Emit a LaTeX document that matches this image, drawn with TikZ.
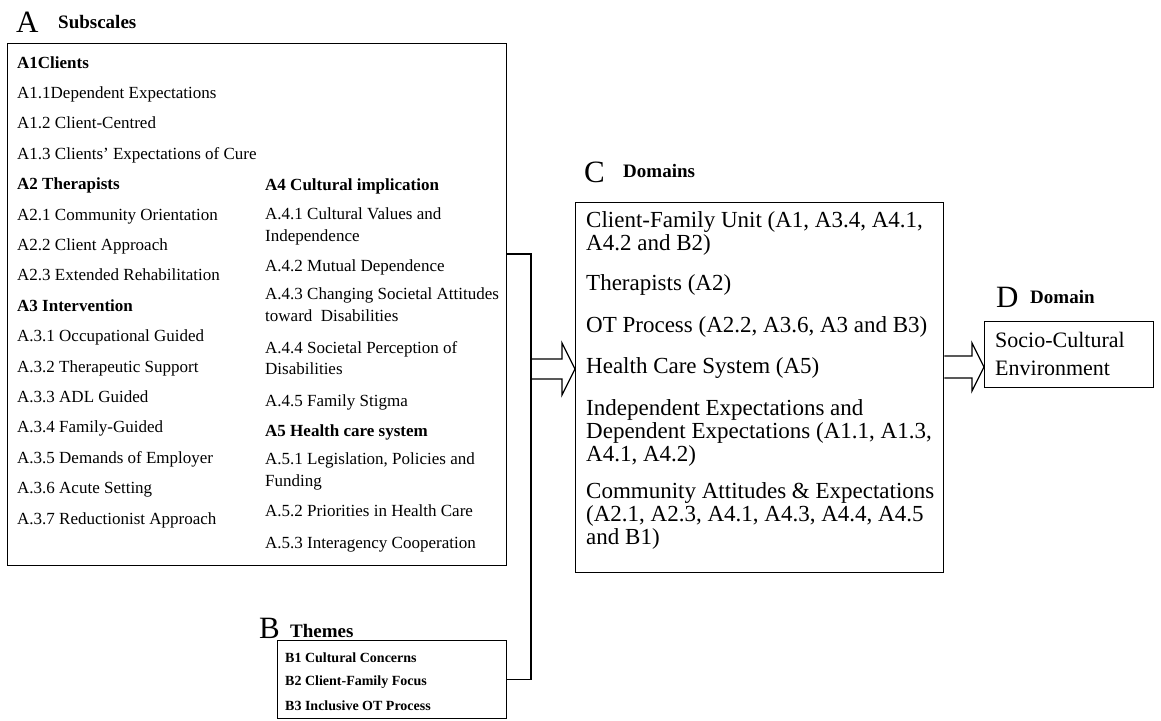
\documentclass[tikz,border=0pt]{standalone}
\usepackage{fontspec}
\setmainfont{Liberation Serif}
\usetikzlibrary{calc}
\newcommand\fsz[2]{\fontsize{#1}{#2}\selectfont}
% block arrow: #1 start point, #2 tip point, #3 shaft half height, #4 head half height, #5 head length
\newcommand\blockarrowpath[5]{%
  \draw[blockarrow] let \p1=(#1), \p2=(#2) in
    (\x1,\y1+#3) -- (\x2-#5,\y1+#3) -- (\x2-#5,\y1+#4) -- (\x2,\y1)
    -- (\x2-#5,\y1-#4) -- (\x2-#5,\y1-#3) -- (\x1,\y1-#3);}

\begin{document}
\begin{tikzpicture}[x=1pt,y=-1pt,
  frame/.style={draw, line width=1.4pt, inner sep=0pt, anchor=north west},
  atext/.style={anchor=base west, inner sep=0pt, font=\fsz{17}{20}},
  ahead/.style={anchor=base west, inner sep=0pt, font=\fsz{17}{20}\bfseries},
  btext/.style={anchor=base west, inner sep=0pt, font=\fsz{14}{16}\bfseries},
  ctext/.style={anchor=base west, inner sep=0pt, font=\fsz{23}{26}},
  dtext/.style={anchor=base west, inner sep=0pt, font=\fsz{22}{25}},
  letter/.style={anchor=base west, inner sep=0pt, font=\fsz{31}{34}},
  caption/.style={anchor=base west, inner sep=0pt, font=\fsz{19}{22}\bfseries},
  link/.style={line width=1.4pt},
  blockarrow/.style={draw, line width=1.2pt, line join=miter}
]
\fill[white] (0,0) rectangle (1161,720);
\useasboundingbox (0,0) rectangle (1161,720);

% frames
\node[frame, minimum width=499pt, minimum height=522pt] (A) at (7,43) {};
\node[frame, minimum width=229pt, minimum height=78pt] (B) at (277,640) {};
\node[frame, minimum width=368pt, minimum height=370pt] (C) at (575,202) {};
\node[frame, minimum width=169pt, minimum height=66pt] (D) at (984,321) {};

% section captions
\node[letter] (Aletter) at (16,32) {A};
\node[caption] (Acap) at (58,28) {Subscales};
\node[letter] (Bletter) at (259,638) {B};
\node[caption] (Bcap) at (290,637) {Themes};
\node[letter] (Cletter) at (584,182) {C};
\node[caption] (Ccap) at (623,177) {Domains};
\node[letter] (Dletter) at (996,307) {D};
\node[caption] (Dcap) at (1030,303) {Domain};

% subscales, left column
\node[ahead] (a1)  at (17,68.0)  {A1Clients};
\node[atext] (a11) at (17,98.4)  {A1.1Dependent Expectations};
\node[atext] (a12) at (17,128.8) {A1.2 Client-Centred};
\node[atext] (a13) at (17,159.2) {A1.3 Clients’ Expectations of Cure};
\node[ahead] (a2)  at (17,189.6) {A2 Therapists};
\node[atext] (a21) at (17,220.0) {A2.1 Community Orientation};
\node[atext] (a22) at (17,250.4) {A2.2 Client Approach};
\node[atext] (a23) at (17,280.8) {A2.3 Extended Rehabilitation};
\node[ahead] (a3)  at (17,311.2) {A3 Intervention};
\node[atext] (a31) at (17,341.6) {A.3.1 Occupational Guided};
\node[atext] (a32) at (17,372.0) {A.3.2 Therapeutic Support};
\node[atext] (a33) at (17,402.4) {A.3.3 ADL Guided};
\node[atext] (a34) at (17,432.8) {A.3.4 Family-Guided};
\node[atext] (a35) at (17,463.2) {A.3.5 Demands of Employer};
\node[atext] (a36) at (17,493.6) {A.3.6 Acute Setting};
\node[atext] (a37) at (17,524.0) {A.3.7 Reductionist Approach};

% subscales, right column
\node[ahead] (a4)   at (265,190) {A4 Cultural implication};
\node[atext] (a41)  at (265,219) {A.4.1 Cultural Values and};
\node[atext] (a41b) at (265,241) {Independence};
\node[atext] (a42)  at (265,271) {A.4.2 Mutual Dependence};
\node[atext] (a43)  at (265,299) {A.4.3 Changing Societal Attitudes};
\node[atext] (a43b) at (265,321) {toward\ \ Disabilities};
\node[atext] (a44)  at (265,353) {A.4.4 Societal Perception of};
\node[atext] (a44b) at (265,374) {Disabilities};
\node[atext] (a45)  at (265,406) {A.4.5 Family Stigma};
\node[ahead] (a5)   at (265,436) {A5 Health care system};
\node[atext] (a51)  at (265,464) {A.5.1 Legislation, Policies and};
\node[atext] (a51b) at (265,486) {Funding};
\node[atext] (a52)  at (265,516) {A.5.2 Priorities in Health Care};
\node[atext] (a53)  at (265,548) {A.5.3 Interagency Cooperation};

% themes
\node[btext] (b1) at (285,662) {B1 Cultural Concerns};
\node[btext] (b2) at (285,685) {B2 Client-Family Focus};
\node[btext] (b3) at (285,710) {B3 Inclusive OT Process};

% domains
\node[ctext] (c1)  at (586,227) {Client-Family Unit (A1, A3.4, A4.1,};
\node[ctext] (c1b) at (586,250) {A4.2 and B2)};
\node[ctext] (c2)  at (586,290) {Therapists (A2)};
\node[ctext] (c3)  at (586,332) {OT Process (A2.2, A3.6, A3 and B3)};
\node[ctext] (c4)  at (586,373) {Health Care System (A5)};
\node[ctext] (c5)  at (586,415) {Independent Expectations and};
\node[ctext] (c5b) at (586,438) {Dependent Expectations (A1.1, A1.3,};
\node[ctext] (c5c) at (586,461) {A4.1, A4.2)};
\node[ctext] (c6)  at (586,498) {Community Attitudes \& Expectations};
\node[ctext] (c6b) at (586,521) {(A2.1, A2.3, A4.1, A4.3, A4.4, A4.5};
\node[ctext] (c6c) at (586,544) {and B1)};

% final domain
\node[dtext] (d1)  at (995,347) {Socio-Cultural};
\node[dtext] (d1b) at (995,375) {Environment};

% bracket joining subscales and themes
\coordinate (bar) at (531,254);
\draw[link] (A.east |- bar) -- (bar) -- (bar |- B.east) -- (B.east);

% block arrows
\coordinate (acmid) at (531,369);
\blockarrowpath{acmid}{C.west |- acmid}{10pt}{26pt}{13pt}
\coordinate (cdmid) at (943,367);
\blockarrowpath{C.east |- cdmid}{D.west |- cdmid}{11pt}{24pt}{12pt}
\end{tikzpicture}
\end{document}
